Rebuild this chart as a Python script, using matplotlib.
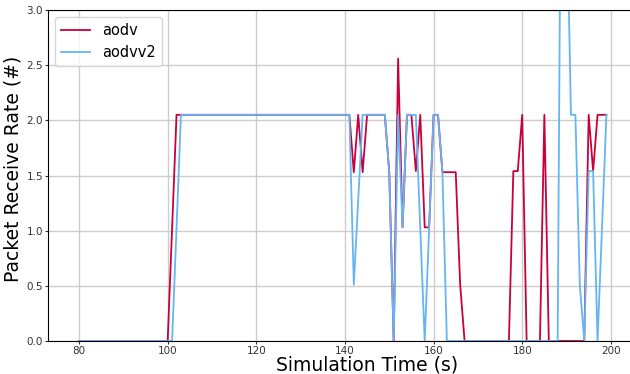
import numpy as np
import matplotlib.pyplot as plt

# ======= Data =======
time_s = np.arange(80, 200)

# values only listed where they differ from 0
aodv_points = {
    101: 1.02, 102: 2.05,
    **{t: 2.05 for t in range(103, 142)},
    142: 1.53, 143: 2.05, 144: 1.53,
    145: 2.05, 146: 2.05, 147: 2.05, 148: 2.05, 149: 2.05, 150: 1.53,
    152: 2.56, 153: 1.03, 154: 2.05, 155: 2.05, 156: 1.54, 157: 2.05,
    158: 1.03, 159: 1.03, 160: 2.05, 161: 2.05,
    162: 1.53, 163: 1.53, 164: 1.53, 165: 1.53, 166: 0.51,
    178: 1.54, 179: 1.54, 180: 2.05,
    185: 2.05,
    195: 2.05, 196: 1.54, 197: 2.05, 198: 2.05, 199: 2.05,
}
aodvv2_points = {
    102: 1.02,
    **{t: 2.05 for t in range(103, 142)},
    142: 0.51, 143: 1.28,
    144: 2.05, 145: 2.05, 146: 2.05, 147: 2.05, 148: 2.05, 149: 2.05, 150: 1.53,
    152: 2.05, 153: 1.03, 154: 2.05, 155: 2.05, 156: 2.05, 157: 1.02,
    159: 1.02, 160: 2.05, 161: 2.05, 162: 1.53,
    189: 6.14, 190: 4.10, 191: 2.05, 192: 2.05, 193: 0.51,
    195: 1.54, 196: 1.54, 198: 1.02, 199: 2.05,
}

aodv = [aodv_points.get(t, 0.0) for t in time_s]
aodvv2 = [aodvv2_points.get(t, 0.0) for t in time_s]

# ======= Plot =======
fig = plt.figure(figsize=(6.3, 3.74), dpi=100)
ax = fig.add_axes([48 / 630, 33 / 374, 585 / 630, 331 / 374])

ax.plot(time_s, aodv, color='#c8003c', linewidth=1.3, label='aodv')
ax.plot(time_s, aodvv2, color='#64b5f6', linewidth=1.3, label='aodvv2')

ax.set_xlim(73, 205)
ax.set_ylim(0, 3.0)
ax.set_xticks(range(80, 201, 20))
ax.set_yticks(np.arange(0, 3.01, 0.5))
ax.tick_params(labelsize=7.5, length=2.5, pad=1, colors='#333333')
ax.grid(True, color='#cccccc', linewidth=1)
ax.set_axisbelow(True)

ax.set_xlabel('Simulation Time (s)', fontsize=13.5)
ax.set_ylabel('Packet Receive Rate (#)', fontsize=13.5)
# label centre sits right of the visible axes centre in the reference
ax.xaxis.set_label_coords(0.546, -0.043)
ax.xaxis.label.set_va('top')
ax.yaxis.set_label_coords(-0.044, 0.52)
ax.legend(loc='upper left', fontsize=10.5, handlelength=2.0)

fig.savefig('out.png', dpi=100)
